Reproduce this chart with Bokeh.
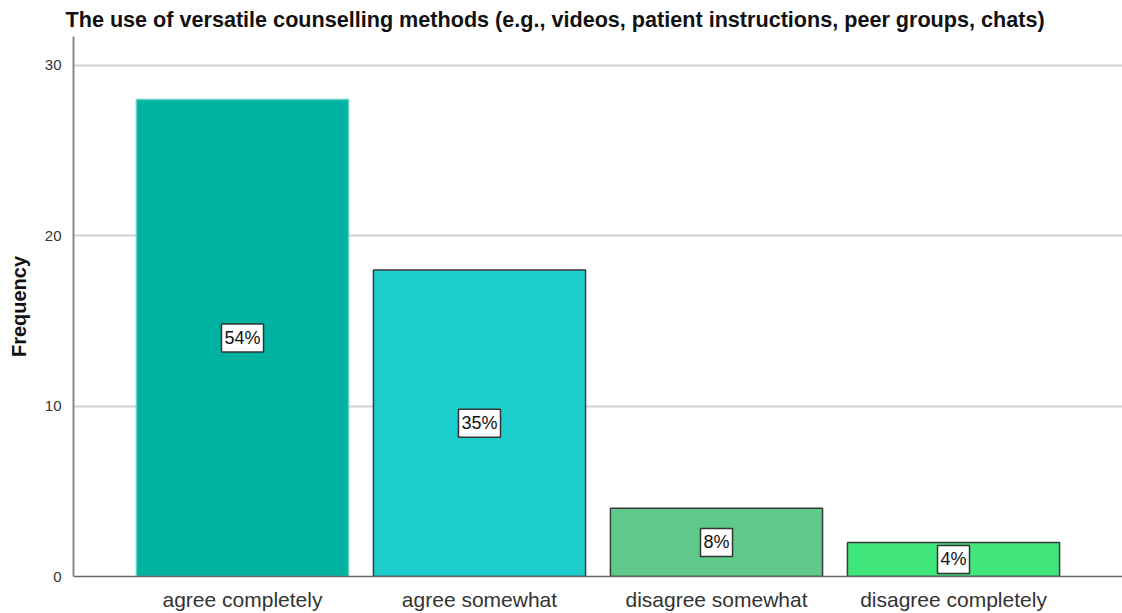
from bokeh.plotting import figure
from bokeh.models import ColumnDataSource, FactorRange, FixedTicker, Title
from bokeh.core.properties import value
from bokeh.embed import file_html
from bokeh.resources import INLINE

# Survey responses: frequency per answer category
categories = ["agree completely", "agree somewhat", "disagree somewhat", "disagree completely"]
counts = [28, 18, 4, 2]
bar_colors = ["#00b3a0", "#1dcece", "#5ec98a", "#40e57c"]
bar_outlines = ["#5fd3c6", "#3a3a3a", "#3a3a3a", "#3a3a3a"]

total = sum(counts)
pct_labels = [f"{round(100 * c / total)}%" for c in counts]
mid = [c / 2 for c in counts]

src = ColumnDataSource(dict(cat=categories, n=counts, fill=bar_colors,
                            line=bar_outlines, pct=pct_labels, mid=mid))

p = figure(
    width=1122, height=613,
    x_range=FactorRange(*categories, range_padding=0.213, range_padding_units="absolute"),
    y_range=(0, 31.7),
    output_backend="svg", toolbar_location=None,
    min_border_left=73, min_border_right=0, min_border_top=0, min_border_bottom=0,
)
p.outline_line_color = None
p.background_fill_color = "white"

title = Title(text="The use of versatile counselling methods (e.g., videos, patient instructions, peer groups, chats)",
              text_font="Liberation Sans", text_font_size="21.6px", text_font_style="bold",
              text_color="#111111", align="left", offset=-8, standoff=9)
p.title = title

p.vbar(x="cat", top="n", width=0.895, source=src, fill_color="fill",
       line_color="line", line_width=1.5)

p.text(x="cat", y="mid", text="pct", source=src,
       text_font=value("Liberation Sans"), text_font_size="18px", text_color="#111111",
       text_align="center", text_baseline="middle",
       background_fill_color="white", border_line_color="#333333", border_line_width=1.5,
       padding=[3, 4])

p.xgrid.grid_line_color = None
p.ygrid.grid_line_color = "#d2d2d2"
p.ygrid.grid_line_width = 2

p.yaxis.ticker = FixedTicker(ticks=[0, 10, 20, 30])
p.yaxis.axis_label = "Frequency"
p.yaxis.axis_label_text_font = "Liberation Sans"
p.yaxis.axis_label_text_font_style = "bold"
p.yaxis.axis_label_text_font_size = "20px"
p.yaxis.axis_label_text_color = "#111111"
p.yaxis.axis_label_standoff = 12
p.yaxis.major_label_text_font = "Liberation Sans"
p.yaxis.major_label_text_font_size = "15px"
p.yaxis.major_label_text_color = "#333333"
p.yaxis.major_label_standoff = 6
p.yaxis.major_tick_line_color = None
p.yaxis.minor_tick_line_color = None
p.yaxis.axis_line_color = "#8a8a8a"
p.yaxis.axis_line_width = 2

p.xaxis.major_label_text_font = "Liberation Sans"
p.xaxis.major_label_text_font_size = "21px"
p.xaxis.major_label_text_color = "#333333"
p.xaxis.major_label_standoff = 5
p.xaxis.major_tick_line_color = None
p.xaxis.minor_tick_line_color = None
p.xaxis.axis_line_color = "#666666"
p.xaxis.axis_line_width = 1.5

open("out.html", "w").write(file_html(p, INLINE))
